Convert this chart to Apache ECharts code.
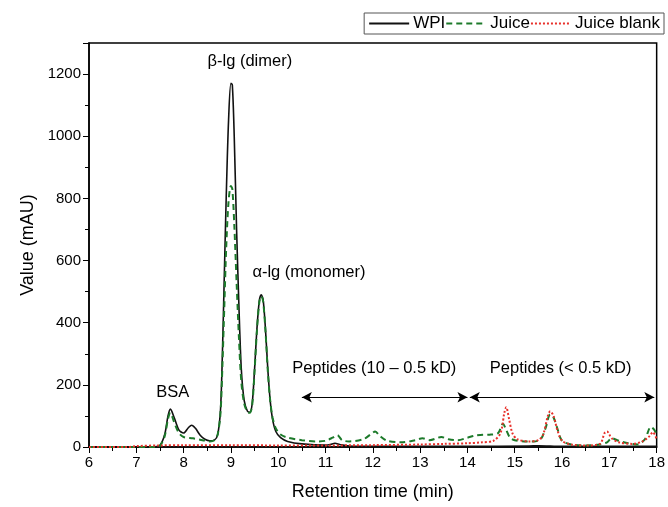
<!DOCTYPE html>
<html><head><meta charset="utf-8">
<script src="https://cdn.jsdelivr.net/npm/echarts@6/dist/echarts.min.js"></script>
<style>html,body{margin:0;padding:0;background:#fff}#c{width:668px;height:507px}</style>
</head><body><div id="c"></div>
<script>
var seriesNames = ['WPI', 'Juice', 'Juice blank'];
var wpi = [[6,0],[7,0],[7.4,1],[7.5,5],[7.6,40],[7.67,100],[7.72,122],[7.8,95],[7.9,55],[8.0,45],[8.1,62],[8.17,70],[8.25,60],[8.35,38],[8.45,25],[8.55,20],[8.65,22],[8.72,40],[8.78,120],[8.82,300],[8.86,550],[8.9,800],[8.95,1050],[9.0,1170],[9.03,1165],[9.07,1000],[9.12,700],[9.17,450],[9.22,250],[9.28,150],[9.35,115],[9.4,112],[9.45,140],[9.5,250],[9.55,380],[9.6,470],[9.64,490],[9.68,475],[9.73,380],[9.78,250],[9.83,150],[9.88,90],[9.95,50],[10.05,30],[10.2,18],[10.5,10],[11,6],[11.1,8],[11.2,12],[11.3,8],[11.5,3],[12,2],[14,2],[15.3,3],[15.5,4],[16,2],[18,2]];
var juice = [[6,0],[7.4,0],[7.5,4],[7.6,35],[7.67,90],[7.72,110],[7.8,80],[7.9,45],[8.0,32],[8.2,28],[8.4,22],[8.55,18],[8.65,22],[8.72,40],[8.78,110],[8.82,260],[8.86,450],[8.9,640],[8.95,790],[9.0,840],[9.03,830],[9.07,720],[9.12,530],[9.17,350],[9.22,210],[9.28,140],[9.35,112],[9.4,110],[9.45,135],[9.5,245],[9.55,375],[9.6,465],[9.64,485],[9.68,470],[9.73,375],[9.78,245],[9.83,150],[9.88,95],[9.95,60],[10.05,40],[10.2,30],[10.5,22],[10.8,18],[11.0,20],[11.15,30],[11.25,38],[11.35,22],[11.5,18],[11.8,25],[11.95,40],[12.05,50],[12.15,35],[12.3,20],[12.6,15],[12.9,22],[13.05,28],[13.2,22],[13.45,32],[13.6,25],[13.8,22],[14.0,30],[14.2,38],[14.5,40],[14.65,45],[14.75,75],[14.82,55],[14.9,30],[15.0,22],[15.2,18],[15.4,18],[15.55,25],[15.65,60],[15.75,105],[15.82,95],[15.9,60],[16.0,20],[16.2,8],[16.5,5],[16.8,8],[16.95,15],[17.05,28],[17.2,20],[17.4,12],[17.6,8],[17.75,25],[17.88,65],[17.95,55],[18,40]];
var blank = [[6,0],[6.8,0],[7.0,3],[7.5,5],[8,6],[9,6],[10,5],[11,5],[12,6],[13,8],[13.5,10],[14,12],[14.3,15],[14.55,20],[14.7,45],[14.78,110],[14.82,128],[14.88,90],[14.95,45],[15.05,25],[15.3,18],[15.5,22],[15.6,40],[15.7,100],[15.75,115],[15.82,100],[15.9,55],[16.0,20],[16.2,8],[16.5,5],[16.8,10],[16.9,45],[16.95,50],[17.05,28],[17.2,15],[17.5,10],[17.7,18],[17.85,35],[17.92,48],[18,25]];
var labels = [
  {text: 'β-lg (dimer)', x: 9.4, y: 1240},
  {text: 'α-lg (monomer)', x: 10.65, y: 561},
  {text: 'BSA', x: 7.77, y: 177},
  {text: 'Peptides (10 – 0.5 kD)', x: 12.03, y: 252},
  {text: 'Peptides (< 0.5 kD)', x: 15.97, y: 252}
];
var arrows = [[[10.5, 160], [14.0, 160]], [[14.05, 160], [17.95, 160]]];

var chart = echarts.init(document.getElementById('c'), null, {renderer: 'canvas'});
var font = 'Liberation Sans, Arial, sans-serif';
chart.setOption({
  animation: false,
  textStyle: {fontFamily: font},
  grid: {left: 89, right: 10, top: 43, bottom: 60, show: true, borderColor: '#000', borderWidth: 1.5},
  legend: {
    right: 4, top: 13, padding: [2, 4, 2, 4], itemGap: 0, itemWidth: 40, itemHeight: 10,
    borderColor: '#555', borderWidth: 1,
    itemStyle: {opacity: 0},
    textStyle: {fontSize: 17, color: '#000', fontFamily: font, padding: [0,0,0,-1]},
    data: seriesNames
  },
  xAxis: {
    type: 'value', min: 6, max: 18, interval: 1,
    name: 'Retention time (min)', nameLocation: 'middle', nameGap: 36,
    nameTextStyle: {fontSize: 18, color: '#000'},
    axisLine: {onZero: false, lineStyle: {color: '#000', width: 1.5}},
    axisTick: {inside: false, length: 6, lineStyle: {color: '#000'}},
    minorTick: {show: true, splitNumber: 2, length: 4, lineStyle: {color: '#000'}},
    axisLabel: {fontSize: 15, color: '#000', margin: 8},
    splitLine: {show: false}
  },
  yAxis: {
    type: 'value', min: 0, max: 1300, interval: 200,
    name: 'Value (mAU)', nameLocation: 'middle', nameGap: 51,
    nameTextStyle: {fontSize: 18, color: '#000'},
    axisLine: {onZero: false, lineStyle: {color: '#000', width: 1.5}},
    axisTick: {inside: false, length: 6, lineStyle: {color: '#000'}},
    minorTick: {show: true, splitNumber: 2, length: 4, lineStyle: {color: '#000'}},
    axisLabel: {fontSize: 15, color: '#000', margin: 8, showMaxLabel: false, formatter: function (v) { return String(v); }},
    splitLine: {show: false}
  },
  series: [
    {name: seriesNames[0], type: 'line', data: wpi, symbol: 'none', smooth: 0.3, z: 3,
     lineStyle: {color: '#111', width: 1.6, type: 'solid'}, itemStyle: {color: '#111'},
     markLine: {silent: true, symbol: ['arrow', 'arrow'], symbolSize: [8, 10],
       lineStyle: {color: '#000', width: 1, type: 'solid'}, label: {show: false},
       data: arrows.map(function (a) { return [{coord: a[0]}, {coord: a[1]}]; })},
     markPoint: {silent: true, symbol: 'circle', symbolSize: 0,
       label: {show: true, position: 'inside', fontSize: 16.5, color: '#000', fontFamily: font, formatter: function (p) { return p.name; }},
       data: labels.map(function (l) { return {name: l.text, coord: [l.x, l.y]}; })}
    },
    {name: seriesNames[1], type: 'line', data: juice, symbol: 'none', smooth: 0.3, z: 4,
     lineStyle: {color: '#1c7a2a', width: 2, type: [6, 4]}, itemStyle: {color: '#1c7a2a'}},
    {name: seriesNames[2], type: 'line', data: blank, symbol: 'none', smooth: 0.3, z: 5,
     lineStyle: {color: '#e8302a', width: 2, type: [2, 2]}, itemStyle: {color: '#e8302a'}}
  ]
});
</script></body></html>
